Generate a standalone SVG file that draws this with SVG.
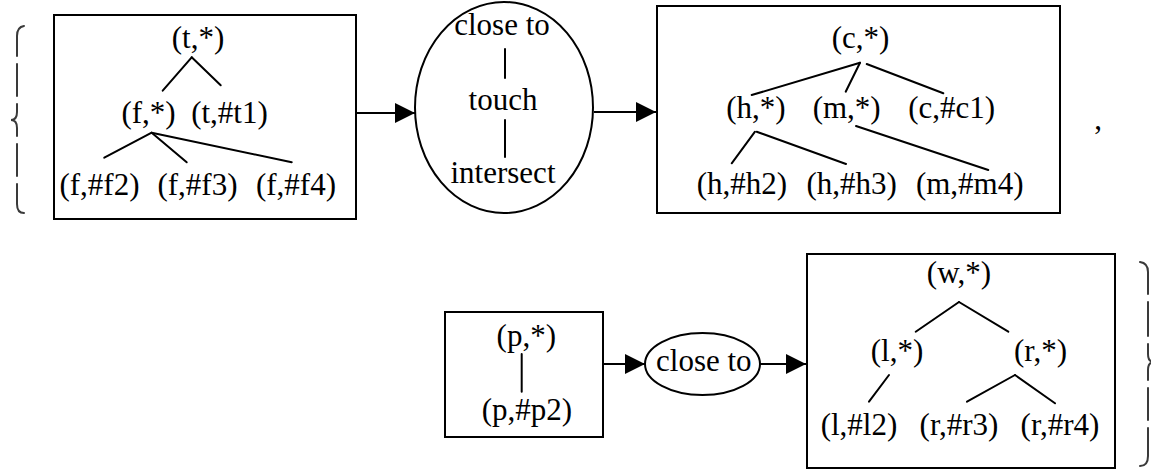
<svg xmlns="http://www.w3.org/2000/svg" width="1151" height="471" viewBox="0 0 1151 471">
<style>
  .box { fill: #fff; stroke: #000; stroke-width: 2; }
  .ell { fill: #fff; stroke: #000; stroke-width: 2; }
  .t { font-family: "Liberation Serif", "Times New Roman", serif; font-size: 31px; fill: #000; text-anchor: middle; }
  .tl { stroke: #000; stroke-width: 2; fill: none; stroke-linecap: round; }
  .conn { stroke: #000; stroke-width: 2; fill: none; marker-end: url(#ah); }
  .brace { stroke: #3a3a3a; stroke-width: 2; fill: none; stroke-linecap: round; }
</style>
<defs>
  <marker id="ah" markerUnits="userSpaceOnUse" viewBox="0 0 20 20" refX="20" refY="10" markerWidth="20" markerHeight="20" orient="auto">
    <path d="M0,0 L20,10 L0,20 z" fill="#000"/>
  </marker>
</defs>
<rect width="1151" height="471" fill="#fff"/>

<g id="brace-left">
  <path class="brace" d="M24,26 Q17,27 17,36 L17,56 M17,64 L17,96 M17,104 L17,112 Q17,120 11,120 Q17,120 17,128 L17,136 M17,144 L17,176 M17,184 L17,204 Q17,213 24,213"/>
</g>

<g id="tree-t">
  <rect class="box" x="54" y="15" width="302" height="204"/>
  <text class="t" x="198" y="48">(t,*)</text>
  <text class="t" x="148.5" y="123">(f,*)</text>
  <text class="t" x="229.5" y="123">(t,#t1)</text>
  <text class="t" x="99.5" y="195">(f,#f2)</text>
  <text class="t" x="197.5" y="195">(f,#f3)</text>
  <text class="t" x="296" y="195">(f,#f4)</text>
  <line class="tl" x1="191.7" y1="57.3" x2="162.7" y2="90.7"/>
  <line class="tl" x1="191.7" y1="57.3" x2="220.7" y2="85.3"/>
  <line class="tl" x1="151.7" y1="132.7" x2="104.3" y2="157.7"/>
  <line class="tl" x1="151.7" y1="132.7" x2="186.7" y2="162.3"/>
  <line class="tl" x1="151.7" y1="132.7" x2="291.7" y2="162.3"/>
</g>

<g id="rel-1">
  <ellipse class="ell" cx="504" cy="107.5" rx="89" ry="105.5"/>
  <text class="t" x="502" y="35">close to</text>
  <text class="t" x="503" y="110">touch</text>
  <text class="t" x="503" y="183">intersect</text>
  <line class="tl" x1="505" y1="49" x2="505" y2="78"/>
  <line class="tl" x1="505" y1="120" x2="505" y2="157"/>
</g>

<g id="tree-c">
  <rect class="box" x="657" y="6" width="403" height="207"/>
  <text class="t" x="860.5" y="48">(c,*)</text>
  <text class="t" x="756" y="118">(h,*)</text>
  <text class="t" x="846.7" y="118">(m,*)</text>
  <text class="t" x="951.7" y="118">(c,#c1)</text>
  <text class="t" x="742" y="194">(h,#h2)</text>
  <text class="t" x="851.7" y="194">(h,#h3)</text>
  <text class="t" x="969.7" y="194">(m,#m4)</text>
  <line class="tl" x1="860" y1="62.7" x2="751.7" y2="95"/>
  <line class="tl" x1="860" y1="62.7" x2="845.7" y2="91.7"/>
  <line class="tl" x1="866.7" y1="64" x2="943.3" y2="93.3"/>
  <line class="tl" x1="755" y1="131.7" x2="731.7" y2="163.3"/>
  <line class="tl" x1="756.7" y1="131.7" x2="846" y2="164"/>
  <line class="tl" x1="856" y1="126" x2="988.3" y2="170"/>
</g>

<g id="comma">
  <text class="t" x="1098" y="129">,</text>
</g>

<g id="tree-p">
  <rect class="box" x="445" y="312" width="158" height="125"/>
  <text class="t" x="526.3" y="346">(p,*)</text>
  <text class="t" x="527" y="419.5">(p,#p2)</text>
  <line class="tl" x1="521.7" y1="354" x2="521.7" y2="391.7"/>
</g>

<g id="rel-2">
  <ellipse class="ell" cx="702.5" cy="364" rx="57.5" ry="31"/>
  <text class="t" x="703.8" y="371">close to</text>
</g>

<g id="tree-w">
  <rect class="box" x="807" y="254" width="308" height="214"/>
  <text class="t" x="959" y="283">(w,*)</text>
  <text class="t" x="897" y="361">(l,*)</text>
  <text class="t" x="1040.5" y="361">(r,*)</text>
  <text class="t" x="859" y="434.5">(l,#l2)</text>
  <text class="t" x="959" y="434.5">(r,#r3)</text>
  <text class="t" x="1060" y="434.5">(r,#r4)</text>
  <line class="tl" x1="959" y1="302" x2="915.7" y2="331.7"/>
  <line class="tl" x1="959" y1="302" x2="1008.3" y2="331.7"/>
  <line class="tl" x1="889" y1="375" x2="869" y2="401.7"/>
  <line class="tl" x1="1015" y1="375" x2="967" y2="401.7"/>
  <line class="tl" x1="1015" y1="375" x2="1055" y2="403.3"/>
</g>

<g id="brace-right">
  <path class="brace" d="M1140,262 Q1148,263 1148,272 L1148,294 M1148,302 L1148,336 M1148,344 L1148,354 Q1148,362 1154,362 Q1148,362 1148,370 L1148,380 M1148,388 L1148,420 M1148,428 L1148,456 Q1148,466 1140,466"/>
</g>

<g id="connectors">
  <line class="conn" x1="356" y1="113" x2="415" y2="113"/>
  <line class="conn" x1="594" y1="112" x2="656" y2="112"/>
  <line class="conn" x1="604" y1="364" x2="645" y2="364"/>
  <line class="conn" x1="760" y1="364" x2="806" y2="364"/>
</g>
</svg>
